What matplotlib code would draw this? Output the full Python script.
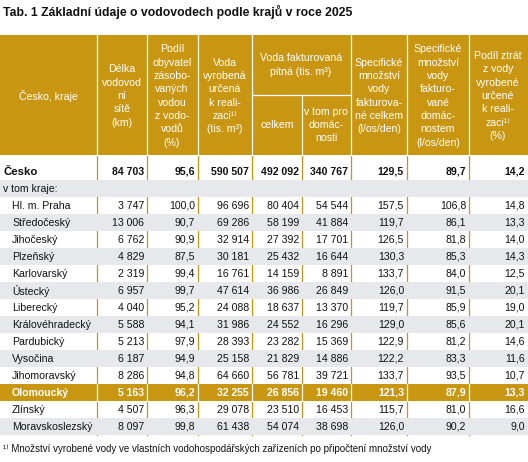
import matplotlib
matplotlib.use("Agg")
import matplotlib.pyplot as plt
from matplotlib.patches import Rectangle

plt.rcParams['font.family'] = ['Liberation Sans', 'DejaVu Sans']

regions = ["Česko", "v tom kraje:", "Hl. m. Praha", "Středočeský", "Jihočeský", "Plzeňský", "Karlovarský",
           "Ústecký", "Liberecký", "Královéhradecký", "Pardubický", "Vysočina", "Jihomoravský",
           "Olomoucký", "Zlínský", "Moravskoslezský"]
delka = ["84 703", "", "3 747", "13 006", "6 762", "4 829", "2 319", "6 957", "4 040", "5 588", "5 213", "6 187", "8 286", "5 163", "4 507", "8 097"]
podil = ["95,6", "", "100,0", "90,7", "90,9", "87,5", "99,4", "99,7", "95,2", "94,1", "97,9", "94,9", "94,8", "96,2", "96,3", "99,8"]
vyrob = ["590 507", "", "96 696", "69 286", "32 914", "30 181", "16 761", "47 614", "24 088", "31 986", "28 393", "25 158", "64 660", "32 255", "29 078", "61 438"]
fakt = ["492 092", "", "80 404", "58 199", "27 392", "25 432", "14 159", "36 986", "18 637", "24 552", "23 282", "21 829", "56 781", "26 856", "23 510", "54 074"]
domac = ["340 767", "", "54 544", "41 884", "17 701", "16 644", "8 891", "26 849", "13 370", "16 296", "15 369", "14 886", "39 721", "19 460", "16 453", "38 698"]
spec1 = ["129,5", "", "157,5", "119,7", "126,5", "130,3", "133,7", "126,0", "119,7", "129,0", "122,9", "122,2", "133,7", "121,3", "115,7", "126,0"]
spec2 = ["89,7", "", "106,8", "86,1", "81,8", "85,3", "84,0", "91,5", "85,9", "85,6", "81,2", "83,3", "93,5", "87,9", "81,0", "90,2"]
ztrat = ["14,2", "", "14,8", "13,3", "14,0", "14,3", "12,5", "20,1", "19,0", "20,1", "14,6", "11,6", "10,7", "13,3", "16,6", "9,0"]
cols = [delka, podil, vyrob, fakt, domac, spec1, spec2, ztrat]

W, H = 528, 462
fig = plt.figure(figsize=(W/100, H/100), dpi=100)
ax = fig.add_axes([0, 0, 1, 1])
ax.set_xlim(0, W); ax.set_ylim(H, 0); ax.axis('off')

GOLD = "#C99612"
GRAY = "#E6E8EB"
FS = 7.6
xs = [0, 97, 147, 198, 252, 302, 351, 407, 469, 528]

ax.text(3, 12, "Tab. 1 Základní údaje o vodovodech podle krajů v roce 2025", fontsize=8.8,
        fontweight='bold', va='center', ha='left', color='#111111')

# header
ax.add_patch(Rectangle((0, 35), W, 120, color=GOLD, lw=0))
for x in xs[1:-1]:
    if x == 302:
        ax.plot([x, x], [95, 155], color='white', lw=0.9)
    else:
        ax.plot([x, x], [35, 155], color='white', lw=0.9)
ax.plot([252, 351], [95, 95], color='white', lw=0.9)
hkw = dict(color='white', fontsize=FS, ha='center', va='center', linespacing=1.42)
ax.text(48, 96, "Česko, kraje", **hkw)
ax.text(122, 96, "Délka\nvodovod\nní\nsítě\n(km)", **hkw)
ax.text(172, 96, "Podíl\nobyvatel\nzásobo-\nvaných\nvodou\nz vodo-\nvodů\n(%)", **hkw)
ax.text(225, 96, "Voda\nvyrobená\nurčená\nk reali-\nzaci¹⁾\n(tis. m³)", **hkw)
ax.text(301, 65, "Voda fakturovaná\npitná (tis. m³)", **hkw)
ax.text(277, 125, "celkem", **hkw)
ax.text(326, 125, "v tom pro\ndomác-\nnosti", **hkw)
ax.text(379, 96, "Specifické\nmnožství\nvody\nfakturova-\nné celkem\n(l/os/den)", **hkw)
ax.text(438, 96, "Specifické\nmnožství\nvody\nfakturo-\nvané\ndomác-\nnostem\n(l/os/den)", **hkw)
ax.text(498, 96, "Podíl ztrát\nz vody\nvyrobené\nurčené\nk reali-\nzaci¹⁾\n(%)", **hkw)

# rows
centers = [172, 188.7] + [205.7 + 17.0 * i for i in range(14)]
bounds = [(155, 180.2), (180.2, 197.2)] + [(c - 8.5, c + 8.5) for c in centers[2:]]
for i, (name, c, (y0, y1)) in enumerate(zip(regions, centers, bounds)):
    bg = None
    tc = '#111111'
    bold = False
    if name == "Olomoucký":
        bg = GOLD; tc = 'white'; bold = True
    elif i in (1, 3, 5, 7, 9, 11, 15):
        bg = GRAY
    if i == 0:
        bold = True
    if bg:
        ax.add_patch(Rectangle((0, y0), W, y1 - y0, color=bg, lw=0))
    indent = 3 if i < 2 else 12
    ax.text(indent, c, name, fontsize=FS + (0.6 if i == 0 else 0), ha='left', va='center', color=tc,
            fontweight='bold' if bold else 'normal')
    for j, col in enumerate(cols):
        ax.text(xs[j + 2] - 3, c, col[i], fontsize=FS, ha='right', va='center', color=tc,
                fontweight='bold' if bold else 'normal')

for x in xs[1:-1]:
    ax.plot([x, x], [155, bounds[-1][1]], color=GOLD, lw=0.9, zorder=0.5)
oy0, oy1 = bounds[13]
for x in xs[1:-1]:
    ax.plot([x, x], [oy0, oy1], color='white', lw=0.9)

ax.text(3, 449, "¹⁾ Množství vyrobené vody ve vlastních vodohospodářských zařízeních po připočtení množství vody",
        fontsize=7.0, ha='left', va='center', color='#111111')

fig.savefig("out.png", dpi=100)
